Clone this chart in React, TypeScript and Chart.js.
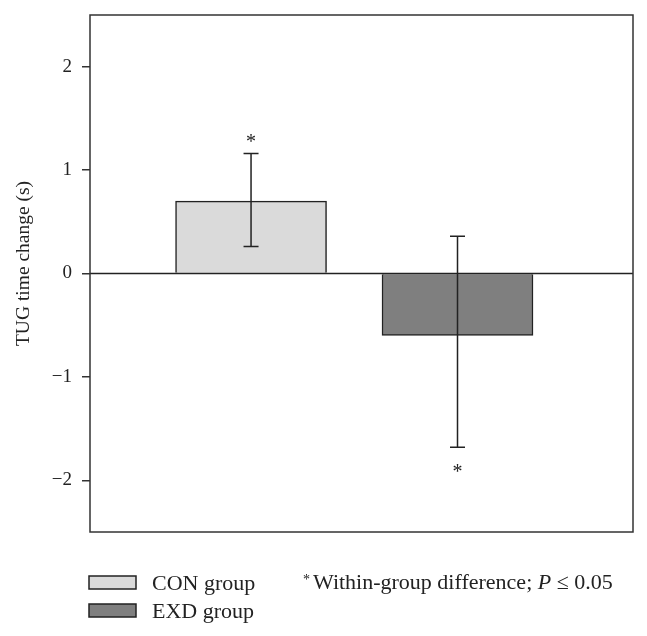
import React, { useEffect, useRef } from "react";
import { Chart, registerables } from "chart.js";

Chart.register(...registerables);

const categories = ["CON group", "EXD group"];
const positions = [1, 2];
const means = [0.7, -0.6];
const errHigh = [1.16, 0.36];
const errLow = [0.26, -1.68];
const significant = [true, true];
const yTicks = [-2, -1, 0, 1, 2];
const barColors = ["#dadada", "#7f7f7f"];
const yTitle = "TUG time change (s)";
const footnoteMain = "Within-group difference; ";
const footnoteP = "P";
const footnoteTail = " \u2264 0.05";

const SERIF = '"Liberation Serif", "DejaVu Serif", serif';
const INK = "#222";

const overlay = {
  id: "overlay",
  afterDatasetsDraw(chart: any) {
    const { ctx, chartArea, scales } = chart;
    const x = scales.x;
    const y = scales.y;
    ctx.save();
    // zero line
    ctx.strokeStyle = INK;
    ctx.lineWidth = 1.5;
    const y0 = y.getPixelForValue(0);
    ctx.beginPath();
    ctx.moveTo(chartArea.left, y0);
    ctx.lineTo(chartArea.right, y0);
    ctx.stroke();
    // error bars
    for (let i = 0; i < positions.length; i++) {
      const px = x.getPixelForValue(positions[i]);
      const hi = y.getPixelForValue(errHigh[i]);
      const lo = y.getPixelForValue(errLow[i]);
      ctx.beginPath();
      ctx.moveTo(px, hi);
      ctx.lineTo(px, lo);
      ctx.moveTo(px - 7.5, hi);
      ctx.lineTo(px + 7.5, hi);
      ctx.moveTo(px - 7.5, lo);
      ctx.lineTo(px + 7.5, lo);
      ctx.stroke();
      if (significant[i]) {
        ctx.fillStyle = INK;
        ctx.font = `20px ${SERIF}`;
        ctx.textAlign = "center";
        ctx.textBaseline = "alphabetic";
        const by = means[i] >= 0 ? hi - 6 : lo + 31;
        ctx.fillText("*", px, by);
      }
    }
    // frame
    ctx.strokeStyle = "#333";
    ctx.lineWidth = 1.5;
    ctx.strokeRect(
      chartArea.left,
      chartArea.top,
      chartArea.right - chartArea.left,
      chartArea.bottom - chartArea.top
    );
    ctx.restore();
  },
  afterDraw(chart: any) {
    const { ctx, chartArea } = chart;
    ctx.save();
    // y title
    ctx.fillStyle = INK;
    ctx.font = `19.5px ${SERIF}`;
    ctx.translate(29, (chartArea.top + chartArea.bottom) / 2 - 10);
    ctx.rotate(-Math.PI / 2);
    ctx.textAlign = "center";
    ctx.textBaseline = "alphabetic";
    ctx.fillText(yTitle, 0, 0);
    ctx.restore();

    ctx.save();
    // legend
    const boxX = 89;
    const boxW = 47;
    const boxH = 13;
    const rowTop = [576, 604];
    ctx.font = `22px ${SERIF}`;
    ctx.textBaseline = "alphabetic";
    ctx.textAlign = "left";
    for (let i = 0; i < categories.length; i++) {
      ctx.fillStyle = barColors[i];
      ctx.fillRect(boxX, rowTop[i], boxW, boxH);
      ctx.strokeStyle = INK;
      ctx.lineWidth = 1.5;
      ctx.strokeRect(boxX, rowTop[i], boxW, boxH);
      ctx.fillStyle = INK;
      ctx.fillText(categories[i], 152, rowTop[i] + 14);
    }
    // footnote
    ctx.font = `14px ${SERIF}`;
    ctx.fillText("*", 303, 584);
    let fx = 313;
    const fy = 589;
    ctx.font = `22px ${SERIF}`;
    ctx.fillText(footnoteMain, fx, fy);
    fx += ctx.measureText(footnoteMain).width;
    ctx.font = `italic 22px ${SERIF}`;
    ctx.fillText(footnoteP, fx, fy);
    fx += ctx.measureText(footnoteP).width;
    ctx.font = `22px ${SERIF}`;
    ctx.fillText(footnoteTail, fx, fy);
    ctx.restore();
  },
};

export default function App() {
  const ref = useRef<HTMLCanvasElement | null>(null);
  useEffect(() => {
    if (!ref.current) return;
    const chart = new Chart(ref.current, {
      type: "bar",
      data: {
        datasets: [
          {
            label: "TUG",
            data: positions.map((p, i) => ({ x: p, y: means[i] })),
            backgroundColor: barColors,
            borderColor: INK,
            borderWidth: 1.5,
            barThickness: 151,
          } as any,
        ],
      },
      options: {
        responsive: false,
        animation: false,
        devicePixelRatio: 1,
        layout: { padding: { left: 0, top: 15, right: 14, bottom: 104 } },
        plugins: {
          legend: { display: false },
          tooltip: { enabled: false },
        },
        scales: {
          x: {
            type: "linear",
            min: 0.22,
            max: 2.85,
            offset: false,
            display: false,
          },
          y: {
            type: "linear",
            min: -2.5,
            max: 2.5,
            afterBuildTicks: (scale: any) => {
              scale.ticks = yTicks.map((v) => ({ value: v }));
            },
            afterFit: (scale: any) => {
              scale.width = 90;
              scale.paddingTop = 0;
              scale.paddingBottom = 0;
            },
            border: { display: false },
            grid: {
              drawOnChartArea: false,
              drawTicks: true,
              tickLength: 8,
              color: "#333",
              lineWidth: 1.5,
            },
            ticks: {
              padding: 10,
              color: INK,
              font: { family: SERIF, size: 19 },
              callback: (v: any) =>
                Number(v) < 0 ? "\u2212" + Math.abs(Number(v)) : String(v),
            },
          },
        },
      },
      plugins: [overlay],
    });
    return () => chart.destroy();
  }, []);
  return (
    <div
      style={{
        position: "fixed",
        left: 0,
        top: 0,
        width: 647,
        height: 636,
        background: "#fff",
      }}
    >
      <canvas ref={ref} width={647} height={636} style={{ width: 647, height: 636 }} />
    </div>
  );
}
